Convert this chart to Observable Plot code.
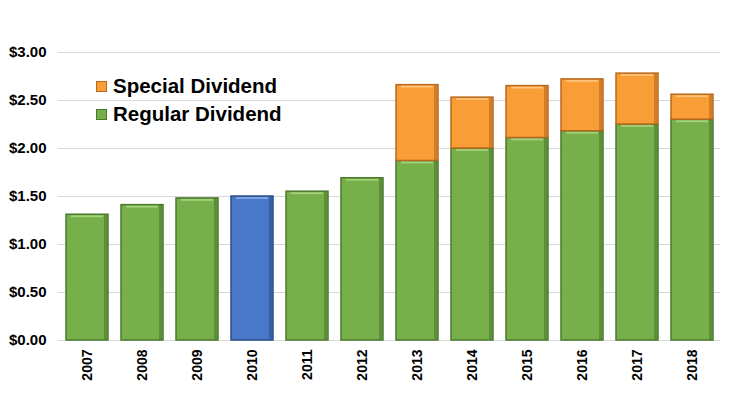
<!DOCTYPE html>
<html>
<head>
<meta charset="utf-8">
<script src="https://cdn.jsdelivr.net/npm/d3@7"></script>
<script src="https://cdn.jsdelivr.net/npm/@observablehq/plot@0.6"></script>
<style>
  html, body { margin: 0; padding: 0; background: #fff; }
  #wrap { position: relative; width: 730px; height: 400px; font-family: "Liberation Sans", Arial, sans-serif; }
  .legend { position: absolute; left: 96px; top: 72px; font-weight: bold; font-size: 20.5px; color: #000; line-height: 28px; }
  .legend .item { display: flex; align-items: center; }
  .legend .sw { width: 11px; height: 11px; margin-right: 6px; box-sizing: border-box; }
</style>
</head>
<body>
<div id="wrap">
  <div class="legend">
    <div class="item"><span class="sw" style="background:#f99d36;border:1.5px solid #b8691e"></span>Special Dividend</div>
    <div class="item"><span class="sw" style="background:#77b04b;border:1.5px solid #4a7a2c"></span>Regular Dividend</div>
  </div>
</div>
<script>
const years = ["2007","2008","2009","2010","2011","2012","2013","2014","2015","2016","2017","2018"];
const regular = [1.31, 1.41, 1.48, 1.50, 1.55, 1.69, 1.87, 2.00, 2.11, 2.18, 2.25, 2.30];
const special = [0, 0, 0, 0, 0, 0, 0.79, 0.53, 0.54, 0.54, 0.53, 0.26];
const highlightYear = "2010";
const yTicks = [0, 0.5, 1, 1.5, 2, 2.5, 3];

const rows = [];
years.forEach((y, i) => {
  rows.push({year: y, kind: y === highlightYear ? "highlight" : "Regular Dividend", y1: 0, y2: regular[i]});
  if (special[i] > 0) rows.push({year: y, kind: "Special Dividend", y1: regular[i], y2: regular[i] + special[i]});
});
const fills = {"Regular Dividend": "#77b04b", "Special Dividend": "#f99d36", "highlight": "#4a78c9"};
const strokes = {"Regular Dividend": "#4a7a2c", "Special Dividend": "#b8691e", "highlight": "#2d4f8c"};
const lights = {"Regular Dividend": "#a6d27c", "Special Dividend": "#ffc47a", "highlight": "#86a8e6"};

const chart = Plot.plot({
  width: 730,
  height: 400,
  marginLeft: 58,
  marginRight: 10,
  marginTop: 52,
  marginBottom: 60,
  style: {fontFamily: "Liberation Sans, Arial, sans-serif", fontWeight: "bold", fontSize: "14px", color: "#000", background: "#fff"},
  x: {domain: years, paddingInner: 0.24, paddingOuter: 0.12, label: null},
  y: {domain: [0, 3], label: null},
  marks: [
    Plot.ruleY(yTicks, {stroke: "#d9d9d9", strokeWidth: 1}),
    Plot.axisY({ticks: yTicks, tickFormat: d => "$" + d.toFixed(2), tickSize: 0, tickPadding: 12, fontSize: 15, fontWeight: "bold"}),
    Plot.axisX({tickSize: 0, tickRotate: -90, tickPadding: 9, fontSize: 14, fontWeight: "bold"}),
    Plot.rectY(rows, {x: "year", y1: "y1", y2: "y2", fill: d => fills[d.kind], stroke: d => strokes[d.kind], strokeWidth: 1.5}),
    Plot.rectY(rows, {x: "year", y1: d => d.y2 - 0.03, y2: d => d.y2 - 0.012, insetLeft: 5, insetRight: 5, fill: d => lights[d.kind]}),
    Plot.rectY(rows, {x: "year", y1: "y1", y2: "y2", insetLeft: 38, insetRight: 1, fill: d => strokes[d.kind], fillOpacity: 0.6})
  ]
});
document.getElementById("wrap").prepend(chart);
chart.style.position = "absolute";
chart.style.left = "0";
chart.style.top = "0";
</script>
</body>
</html>
